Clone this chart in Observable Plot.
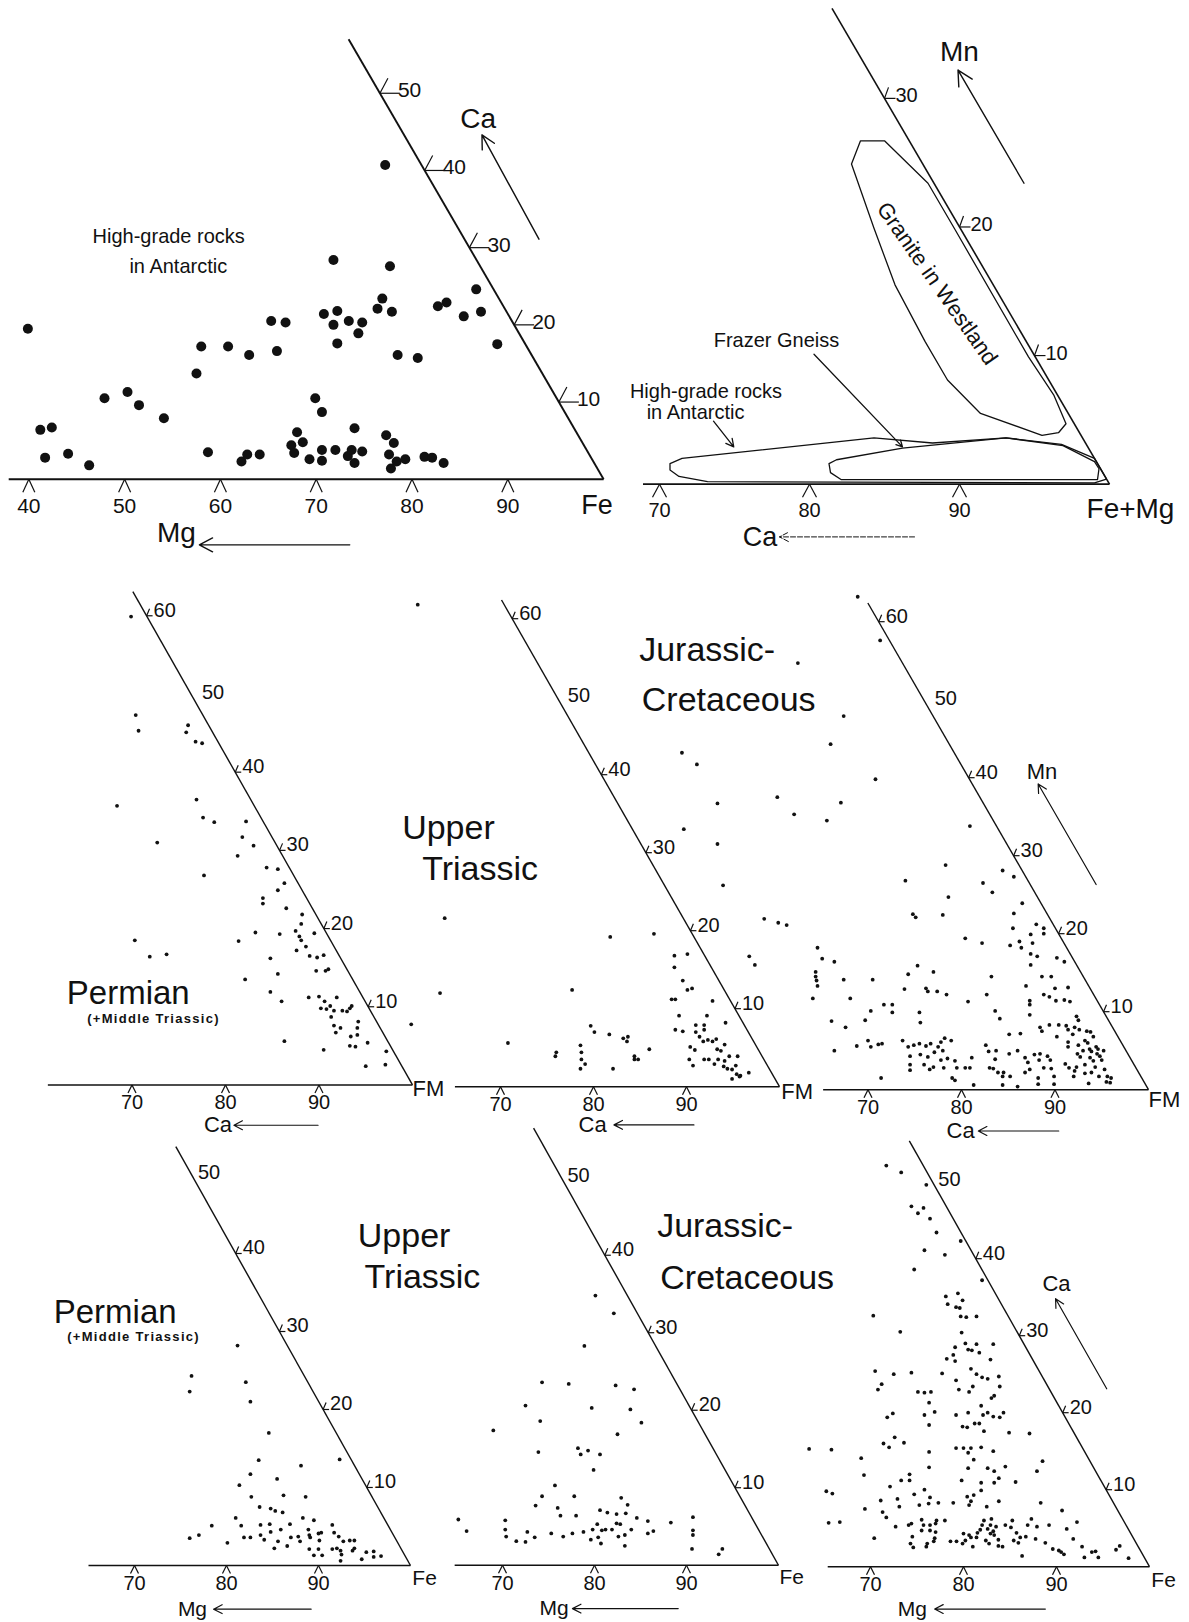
<!DOCTYPE html>
<html><head><meta charset="utf-8">
<script src="https://cdn.jsdelivr.net/npm/d3@7"></script>
<script src="https://cdn.jsdelivr.net/npm/@observablehq/plot@0.6"></script>
<style>
html,body{margin:0;padding:0;background:#fff;}
#page{position:relative;width:1189px;height:1622px;overflow:hidden;background:#fff;}
#page svg{position:absolute;overflow:visible;background:transparent;}
</style></head>
<body><div id="page"></div>
<script>
// ---------- DATA ----------
// Panel 1: Ca vs Mg–Fe (high-grade rocks in Antarctic): [Fe axis reading, Ca]
const antarcticPoints = [
 [77.2,40.7],[71.8,28.4],[77.7,27.6],[86.7,24.6],[76.9,23.4],[82.7,22.4],[83.6,22.9],[76.4,22.1],[77.9,21.7],[87.2,21.7],
 [70.8,21.4],[72.2,21.8],[73.4,20.5],[74.8,20.3],[71.8,20.0],[74.4,18.9],[72.2,17.6],[85.4,21.1],[88.9,17.5],[78.5,16.1],
 [80.6,15.7],[65.3,20.5],[66.8,20.3],[65.9,16.6],[58.0,17.2],[60.8,17.2],[63.0,16.1],[57.5,13.7],[39.9,19.5],[47.9,10.5],
 [50.3,11.3],[51.5,9.6],[54.1,7.9],[41.2,6.4],[42.4,6.7],[41.7,2.8],[44.1,3.3],[46.3,1.8],[58.7,3.5],[62.2,2.3],
 [62.8,3.2],[64.1,3.2],[69.9,10.5],[70.6,8.7],[68.0,6.1],[67.4,4.4],[67.7,3.4],[68.6,4.8],[69.3,2.6],[70.6,3.8],
 [70.6,2.4],[72.0,3.8],[73.3,3.0],[73.7,3.8],[74.0,6.6],[74.0,2.1],[74.8,3.6],[77.3,5.7],[78.1,4.7],[77.6,3.2],
 [77.8,1.4],[78.4,2.3],[79.3,2.6],[81.3,2.9],[82.1,2.8],[83.3,2.1]
];
// Panel 2: fields in Mn vs (Fe+Mg)–Ca: [Fe+Mg axis reading, Mn]
const graniteWestland = [[83.4,26.7],[85.0,26.7],[87.9,23.4],[89.7,19.8],[94.6,9.9],[96.3,6.9],[97.1,4.7],[96.6,4.0],[95.5,3.8],[91.4,5.5],[89.2,8.1],[87.7,11.1],[85.7,15.5],[84.3,19.9],[82.8,24.9]];
const frazerGneiss = [[81.8,1.9],[86.2,2.8],[93.1,3.6],[96.9,3.0],[99.0,1.75],[99.3,1.2],[99.2,0.36],[82.1,0.36],[81.4,0.9],[81.3,1.6]];
const antarcticField = [[71.5,2.0],[84.3,3.6],[88.2,3.2],[93.1,3.6],[96.8,3.1],[99.0,2.0],[99.8,0.4],[99.0,0.1],[73.2,0.2],[71.3,0.6],[70.7,1.1],[70.7,1.6]];

// Middle row: Mn vs FM–Ca: [FM axis reading, Mn]
const permianMn = [
 [69.9,59.9],[70.4,47.3],[70.7,45.3],[76.0,46.0],[75.8,45.1],[76.8,43.9],[77.5,43.7],[68.4,35.7],[76.9,36.5],[77.6,34.2],
 [78.8,33.6],[82.2,33.7],[81.8,31.7],[83.0,30.6],[81.3,29.3],[72.7,31.0],[77.7,26.8],[84.4,27.8],[85.6,27.6],[86.3,25.8],
 [85.6,24.9],[84.0,23.9],[84.0,23.2],[86.5,22.6],[88.2,21.8],[88.1,20.6],[89.5,19.4],[87.5,19.7],[87.9,19.0],[88.1,18.5],
 [85.8,19.3],[83.2,19.5],[81.4,18.4],[88.6,17.7],[87.6,17.2],[89.0,16.5],[89.8,16.3],[90.5,16.6],[89.7,14.6],[90.7,14.6],
 [91.0,14.8],[84.8,16.2],[85.6,14.2],[82.1,13.5],[84.8,11.9],[86.0,10.7],[88.9,11.2],[90.0,11.3],[90.6,10.7],[91.9,11.2],
 [90.2,9.8],[90.8,9.7],[91.2,10.1],[91.6,9.5],[91.3,8.7],[92.5,9.5],[93.0,9.4],[93.3,9.8],[93.5,10.1],[94.2,8.1],
 [94.1,7.3],[91.6,7.6],[92.3,7.3],[91.8,6.7],[93.4,6.2],[94.1,6.4],[93.3,5.0],[93.9,4.9],[95.2,5.4],[86.3,5.6],
 [90.5,4.5],[95.0,2.4],[97.1,2.6],[97.2,4.3],[70.3,18.5],[71.9,16.4],[73.7,16.7]
];
const upperTriassicMn = [
 [61.1,61.8],[64.0,21.6],[63.5,12.0],[60.4,8.0],
 [86.5,19.6],[81.8,19.2],[77.7,12.4],[70.8,5.6],[76.0,4.4],[75.9,3.9],[78.6,5.3],[78.7,4.4],[78.7,3.5],[78.6,2.3],
 [79.1,2.9],[79.7,7.8],[80.1,7.0],[81.7,6.7],[82.1,2.3],[83.2,6.2],[83.7,6.4],[83.6,5.8],[84.4,3.9],[84.8,3.5],
 [84.4,3.5],[86.0,4.8],[88.7,16.8],[90.1,17.0],[88.7,15.3],[89.6,13.6],[90.1,12.4],[90.6,12.6],[88.4,11.2],[88.8,11.2],
 [92.8,11.0],[89.2,9.1],[92.2,9.1],[94.2,8.2],[88.8,7.3],[89.6,7.1],[91.0,7.9],[91.9,7.9],[91.0,7.0],[91.9,7.3],
 [91.4,6.4],[91.8,5.8],[92.3,6.0],[92.8,5.8],[93.2,6.1],[90.4,5.1],[90.9,4.7],[91.9,3.5],[92.4,3.5],[93.3,4.8],
 [93.7,4.6],[94.1,5.4],[90.3,3.5],[90.7,2.7],[93.0,2.9],[93.4,3.5],[94.1,3.3],[94.6,3.9],[95.5,3.9],[94.0,2.6],
 [94.4,2.3],[94.9,2.2],[95.3,2.7],[95.4,1.6],[95.8,1.4],[94.9,1.0],[96.7,1.8],[95.7,1.3]
];
const jurassicMn = [
 [50.1,43.2],[51.7,41.7],[53.9,36.7],[50.3,33.4],[53.9,31.5],[54.5,26.2],[57.3,17.1],[57.9,16.0],[58.9,21.9],[60.4,21.4],
 [61.3,21.1],[60.3,37.5],[68.9,63.2],[62.5,54.7],[67.4,47.9],[66.0,44.3],[70.8,39.8],[67.1,36.8],[62.1,35.3],[65.6,34.5],
 [71.3,57.6],[80.9,33.8],[78.3,28.8],[74.0,26.8],[84.4,28.1],[85.6,27.3],[82.3,26.5],[83.3,25.3],[78.6,24.7],[86.5,23.9],
 [74.8,22.5],[75.1,22.1],[78.0,22.4],[85.6,22.6],[80.4,19.4],[82.2,18.8],[85.5,20.7],[88.0,21.2],[88.8,20.7],[87.4,19.9],
 [88.8,20.0],[85.2,18.5],[86.2,19.0],[86.4,18.2],[87.6,18.8],[87.4,17.4],[88.1,17.1],[90.2,16.9],[91.0,16.4],[87.4,16.0],
 [75.3,15.9],[77.0,15.1],[74.3,14.8],[83.2,14.5],[88.6,14.5],[89.6,14.5],[86.9,13.3],[90.0,13.0],[91.4,13.1],[73.9,12.9],
 [76.2,13.0],[76.4,12.6],[77.4,12.6],[78.4,12.2],[82.7,12.2],[80.7,11.3],[88.8,12.2],[89.4,11.9],[87.3,11.4],[90.1,11.4],
 [91.0,11.5],[91.6,11.3],[83.6,10.1],[87.3,10.9],[87.3,9.6],[84.1,9.1],[75.5,9.9],[75.6,8.6],[72.6,10.9],[72.6,9.9],
 [71.7,10.9],[70.3,10.1],[69.7,8.9],[70.5,14.1],[68.1,11.7],[67.4,14.1],[66.4,16.4],[65.1,16.8],[64.6,18.2],[64.4,15.1],
 [64.4,14.5],[64.5,14.0],[64.6,13.3],[64.1,11.7],[66.1,8.8],[67.6,8.0],[66.4,5.0],[68.8,5.6],[70.0,6.3],[70.3,5.5],
 [71.1,5.8],[71.5,5.9],[71.4,1.5],[73.7,6.3],[74.3,5.5],[74.9,5.7],[75.5,5.9],[76.2,5.6],[76.7,5.9],[77.5,5.5],
 [77.8,6.1],[78.2,6.6],[78.9,6.3],[78.0,5.0],[75.6,4.5],[76.4,4.2],[76.0,3.2],[77.1,4.8],[74.5,4.3],[74.5,3.2],
 [74.5,2.5],[76.6,2.6],[77.0,2.9],[77.8,3.8],[78.1,2.8],[78.5,4.0],[79.3,3.7],[79.5,2.8],[79.0,1.5],[79.3,1.2],
 [80.4,2.8],[80.9,2.8],[81.1,4.1],[81.3,0.6],[82.6,5.7],[82.9,4.9],[83.6,3.9],[83.7,5.0],[83.0,2.8],[83.4,2.7],
 [83.9,2.2],[84.5,2.2],[84.4,0.6],[84.4,1.7],[85.2,1.7],[85.1,4.6],[86.0,5.0],[86.0,0.4],[86.8,4.1],[87.1,3.5],
 [87.8,4.5],[88.3,3.8],[88.4,4.6],[88.8,2.8],[89.2,4.3],[89.5,3.8],[88.2,1.5],[88.2,0.7],[89.9,1.7],[89.9,0.7],
 [89.6,2.7],[87.3,2.6],[86.8,2.2],[85.1,7.1],[86.3,7.2],[88.4,8.0],[88.6,7.5],[89.4,8.3],[90.4,8.3],[90.2,6.8],
 [91.2,8.2],[91.4,6.1],[91.4,5.5],[91.4,7.7],[92.1,8.0],[92.3,9.4],[92.6,7.7],[92.5,8.9],[93.2,6.3],[93.4,7.5],
 [93.8,7.4],[94.1,6.8],[94.4,5.5],[94.6,5.2],[94.8,4.3],[95.0,3.8],[95.3,2.6],[95.6,1.7],[95.9,0.9],[96.0,1.5],
 [95.5,1.0],[93.5,6.0],[93.7,5.2],[93.75,4.1],[94.1,3.7],[94.3,2.9],[93.9,2.2],[93.2,3.2],[92.7,4.2],[93.0,5.0],
 [92.4,4.6],[92.3,2.9],[92.0,1.7],[92.1,2.4],[93.2,2.1],[93.6,0.8],[94.7,1.7],[91.1,3.3],[91.5,2.8],[93.9,4.9],
 [94.5,4.6],[95.2,5.0],[91.9,7.1],[92.5,5.7]
];

// Bottom row: Ca vs Mg–Fe: [Fe axis reading, Ca]
const permianCa = [
 [81.2,28.2],[76.2,24.3],[76.0,22.3],[82.1,23.5],[82.6,21.0],[84.6,17.0],[92.3,13.6],[83.5,13.5],[88.1,12.8],[82.6,11.7],
 [85.5,11.1],[81.4,10.3],[86.2,9.0],[88.6,8.8],[82.7,8.8],[83.6,7.5],[84.8,7.3],[85.3,7.0],[86.1,6.8],[81.0,6.1],
 [78.4,5.1],[77.0,3.9],[76.0,3.5],[80.1,2.9],[81.6,5.1],[81.9,3.6],[82.6,3.6],[83.7,5.2],[83.7,3.9],[84.1,3.3],
 [84.7,5.3],[84.8,4.3],[85.2,2.2],[85.9,4.6],[85.6,3.1],[86.6,2.5],[86.9,5.3],[87.0,3.6],[87.8,3.7],[88.0,3.1],
 [88.3,6.1],[88.9,4.6],[89.5,5.8],[89.0,3.9],[89.1,3.6],[90.0,4.1],[90.3,4.2],[90.1,3.2],[89.0,2.1],[89.5,1.3],
 [90.0,2.1],[90.4,1.3],[91.5,5.2],[91.7,4.2],[92.2,3.7],[92.7,3.1],[93.4,3.2],[93.9,3.2],[91.5,2.1],[92.0,2.2],
 [92.4,1.9],[92.5,1.4],[92.4,0.6],[93.9,2.2],[93.7,1.9],[94.7,0.8],[95.2,1.7],[96.0,1.8],[96.0,1.1],[96.8,1.2]
];
const upperTriassicCa = [
 [80.1,34.8],[82.1,32.5],[78.9,28.3],[74.3,23.6],[77.2,23.4],[82.3,23.2],[84.3,22.7],[72.5,20.6],[79.7,20.3],[83.9,20.1],
 [85.1,18.4],[74.1,18.6],[82.5,16.9],[69.0,17.4],[73.9,14.6],[78.2,15.1],[79.3,14.8],[78.5,14.3],[80.6,14.3],[79.9,12.3],
 [75.7,10.3],[74.3,8.9],[73.6,7.7],[77.8,8.9],[82.9,8.7],[83.6,7.8],[76.0,7.4],[76.3,6.4],[78.0,6.4],[80.6,7.1],
 [81.4,6.8],[82.4,6.6],[83.4,6.7],[84.6,6.1],[85.8,5.7],[88.3,5.5],[90.7,6.2],[90.7,4.5],[90.7,3.9],[90.6,2.1],
 [93.9,2.1],[93.5,1.4],[70.3,5.8],[70.3,4.6],[70.4,3.7],[65.2,5.9],[66.1,4.4],[71.5,3.1],[72.5,3.0],[72.7,4.3],
 [73.5,3.6],[75.3,4.1],[76.6,3.7],[77.6,4.1],[78.8,4.3],[79.6,3.3],[79.8,4.6],[80.3,5.3],[80.4,3.6],[80.7,2.8],
 [80.8,4.5],[81.2,4.6],[81.9,4.6],[82.4,5.4],[82.6,3.7],[82.8,5.3],[83.3,3.9],[83.3,2.5],[84.0,4.6],[85.8,4.1],[86.4,4.4]
];
const jurassicCa = [
 [71.7,52.1],[73.3,51.2],[76.0,49.6],[74.4,46.8],[75.7,46.6],[75.1,45.9],[76.4,45.2],[77.1,43.4],[79.7,42.3],[75.8,41.1],
 [78.0,40.5],[82.0,37.2],[74.7,38.6],[78.1,35.1],[79.4,35.5],[79.9,34.6],[78.3,34.1],[79.2,33.7],[79.6,33.6],[79.7,32.5],
 [80.3,32.4],[81.4,32.5],[70.3,32.6],[73.2,30.5],[79.8,30.4],[80.2,29.0],[81.4,28.9],[83.2,28.9],[79.1,28.5],[80.5,28.2],
 [80.9,28.1],[81.7,27.8],[78.2,27.0],[78.9,27.5],[79.1,26.7],[82.9,26.9],[80.8,25.7],[81.4,25.0],[82.0,24.6],[82.6,24.4],
 [83.8,24.7],[77.7,25.1],[79.2,24.2],[81.0,23.4],[79.5,23.0],[80.6,22.7],[83.9,23.4],[83.3,22.2],[83.0,21.9],[70.5,25.4],
 [72.5,25.0],[74.4,25.2],[71.2,23.7],[70.8,23.0],[75.1,22.7],[75.8,22.6],[76.5,22.7],[76.3,21.3],[75.8,19.7],[76.9,20.1],
 [76.3,18.4],[72.4,19.9],[71.8,19.4],[81.9,20.9],[82.1,19.7],[82.6,20.0],[83.2,19.5],[84.3,20.0],[83.9,19.4],[79.2,19.7],
 [80.5,20.0],[79.9,18.2],[80.4,18.1],[81.2,18.6],[81.7,18.6],[82.2,17.6],[84.9,17.4],[87.1,17.3],[72.6,16.8],[73.6,16.1],
 [71.4,16.0],[72.0,15.5],[63.4,15.3],[65.8,15.2],[76.3,14.9],[79.2,15.4],[80.0,15.4],[80.8,15.4],[80.5,14.8],[81.1,13.9],
 [81.9,15.5],[83.2,15.0],[69.0,14.1],[69.3,11.9],[76.3,12.9],[80.5,12.8],[82.6,12.8],[83.3,12.4],[84.5,13.0],[88.5,13.7],
 [87.9,12.4],[74.2,12.0],[73.3,11.2],[74.2,11.2],[72.1,10.4],[79.8,11.2],[81.9,10.9],[83.8,11.5],[83.3,10.9],[85.6,11.0],
 [81.9,9.9],[81.1,9.3],[65.25,9.8],[65.9,9.5],[71.1,8.6],[71.3,7.1],[71.7,6.4],[72.9,8.8],[73.1,7.8],[74.7,9.4],
 [75.8,10.0],[75.25,8.0],[76.25,8.2],[76.4,9.0],[77.3,8.3],[78.9,8.3],[80.4,9.1],[80.8,8.5],[80.6,8.0],[82.5,7.8],
 [83.8,8.5],[69.4,7.5],[88.3,8.3],[90.6,7.3],[65.5,5.7],[66.7,5.8],[70.4,3.7],[72.7,5.2],[74.1,5.4],[74.4,5.6],
 [74.5,3.9],[74.3,3.0],[74.6,2.5],[75.5,6.1],[75.7,5.4],[76.4,5.4],[77.0,5.6],[75.5,4.7],[76.4,4.7],[77.0,4.5],
 [76.1,3.0],[76.0,2.6],[76.8,3.3],[76.9,3.7],[78.0,6.0],[77.1,6.0],[78.6,3.3],[79.25,3.3],[80.0,4.3],[80.2,3.4],
 [79.9,3.0],[80.8,3.8],[81.0,2.6],[80.6,4.1],[81.5,4.4],[81.4,3.8],[81.8,4.8],[82.0,5.4],[82.2,6.0],[82.6,4.9],
 [82.9,4.3],[82.9,5.4],[83.0,6.2],[82.4,3.4],[82.75,3.0],[83.3,4.1],[83.2,4.6],[83.5,5.2],[83.75,3.5],[84.2,2.6],
 [83.75,2.7],[84.5,5.4],[85.1,5.1],[85.25,6.0],[85.7,4.4],[85.4,3.4],[85.9,3.1],[86.1,3.8],[86.7,3.9],[86.9,5.4],
 [87.3,6.2],[86.3,1.4],[87.9,5.2],[87.75,3.6],[89.2,5.4],[88.8,3.1],[90.25,2.1],[90.5,1.9],[90.8,1.6],[89.6,2.3],
 [91.1,4.9],[91.8,3.6],[92.2,5.8],[92.75,2.6],[93.0,1.2],[93.8,1.9],[94.2,2.0],[94.5,1.2],[96.4,2.2],[96.8,2.7],[97.75,1.1]
];

// Tick labels
const baseTicksTopLeft = [40, 50, 60, 70, 80, 90];
const baseTicks = [70, 80, 90];
const sideTicksTopLeft = [10, 20, 30, 40, 50];
const sideTicksTopRight = [10, 20, 30];
const sideTicksMn = [10, 20, 30, 40, 50, 60];
const sideTicksCa = [10, 20, 30, 40, 50];
const bareTicks = [50];

// ---------- DRAWING ----------
const page = document.getElementById("page");
const FONT = "'Liberation Sans', Arial, Helvetica, sans-serif";
const INK = "#111";

function txt(s, x, y, size, o = {}) {
  return Plot.text([s], {x: () => x, y: () => y, text: d => d, fontSize: size, fontFamily: FONT, fill: INK, ...o});
}
function arr(x1, y1, x2, y2, o = {}) {
  return Plot.arrow([0], {x1: () => x1, y1: () => y1, x2: () => x2, y2: () => y2, stroke: INK, strokeWidth: 1.3, headLength: 12, headAngle: 55, ...o});
}

function frameMarks(c) {
  const diag = v => 100 - c.slope * v;
  const marked = c.side.filter(v => !c.bare.includes(v));
  const bare = c.side.filter(v => c.bare.includes(v));
  return [
    Plot.link([c.baseStart], {x1: d => d, y1: () => 0, x2: () => 100, y2: () => 0, stroke: INK, strokeWidth: c.sw}),
    Plot.link([c.top], {x1: () => 100, y1: () => 0, x2: d => diag(d), y2: d => d, stroke: INK, strokeWidth: c.sw}),
    Plot.link(c.base, {x1: d => d - c.caretW / c.kx, y1: () => -c.caretH / c.ky, x2: d => d, y2: () => 0, stroke: INK, strokeWidth: 1.2}),
    Plot.link(c.base, {x1: d => d + c.caretW / c.kx, y1: () => -c.caretH / c.ky, x2: d => d, y2: () => 0, stroke: INK, strokeWidth: 1.2}),
    Plot.text(c.base, {x: d => d, y: () => 0, text: d => String(d), dy: c.labDy, fontSize: c.fs, fontFamily: FONT, fill: INK, lineAnchor: "middle"}),
    Plot.link(marked, {x1: d => diag(d), y1: d => d, x2: d => diag(d) + c.tickH / c.kx, y2: d => d, stroke: INK, strokeWidth: 1.2}),
    Plot.link(marked, {x1: d => diag(d), y1: d => d, x2: d => diag(d) + c.tickSX / c.kx, y2: d => d + c.tickSY / c.ky, stroke: INK, strokeWidth: 1.2}),
    Plot.text(marked, {x: d => diag(d), y: d => d, text: d => String(d), dx: c.sideDx, dy: c.sideDy ?? 1, textAnchor: "start", lineAnchor: "bottom", fontSize: c.fs, fontFamily: FONT, fill: INK}),
    Plot.text(bare, {x: d => diag(d), y: d => d, text: d => String(d), dx: c.bareDx, dy: c.bareDy, textAnchor: "start", lineAnchor: "bottom", fontSize: c.fs, fontFamily: FONT, fill: INK})
  ];
}

function panel(c, marks) {
  const W = (c.xDom[1] - c.xDom[0]) * c.kx;
  const H = (c.yDom[1] - c.yDom[0]) * c.ky;
  const left = c.px + (c.xDom[0] - c.ref) * c.kx;
  const top = c.basePx - c.yDom[1] * c.ky;
  const svg = Plot.plot({
    width: W, height: H, margin: 0,
    x: {domain: c.xDom, range: [0, W], axis: null},
    y: {domain: c.yDom, range: [H, 0], axis: null},
    marks: [...frameMarks(c), ...marks]
  });
  svg.style.position = "absolute";
  svg.style.left = left + "px";
  svg.style.top = top + "px";
  svg.style.maxWidth = "none";
  svg.style.overflow = "visible";
  svg.style.background = "transparent";
  svg.style.fontFamily = FONT;
  svg.querySelectorAll("text").forEach(t => {
    if (t.textContent === "(+Middle Triassic)") t.style.letterSpacing = "1.3px";
  });
  page.appendChild(svg);
}

const dots = (data, r) => Plot.dot(data, {x: d => d[0], y: d => d[1], r, fill: INK, stroke: "none"});
const poly = data => Plot.line(data, {x: d => d[0], y: d => d[1], curve: "linear-closed", stroke: INK, strokeWidth: 1.3});

const smallFrame = {caretW: 4, caretH: 8, fs: 20, labDy: 18, tickH: 6, tickSX: 3, tickSY: 7, sideDx: 7, bare: bareTicks, sw: 1.4, xDom: [60, 101], ref: 70};
const R = 1.9;

// Panel 1
panel({ref: 40, px: 28, kx: 9.58, basePx: 479, ky: 7.72, xDom: [36, 104], yDom: [-10, 58], slope: 0.467, top: 57, baseStart: 37.9,
  base: baseTicksTopLeft, side: sideTicksTopLeft, bare: [], caretW: 6, caretH: 13, fs: 21, labDy: 27, tickH: 20, tickSX: 8, tickSY: 15, sideDx: 18, sideDy: 4, sw: 1.9},
 [dots(antarcticPoints, 5),
  txt("High-grade rocks", 54.6, 31.4, 20, {lineAnchor: "middle"}),
  txt("in Antarctic", 55.6, 27.6, 20, {lineAnchor: "middle"}),
  txt("Ca", 86.9, 46.7, 28, {lineAnchor: "middle"}),
  arr(93.25, 31.1, 87.3, 44.6, {headLength: 16, strokeWidth: 1.4}),
  txt("Fe", 99.3, -3.4, 27, {lineAnchor: "middle"}),
  txt("Mg", 55.4, -7.0, 28, {lineAnchor: "middle"}),
  arr(73.5, -8.5, 57.8, -8.5, {headLength: 16, strokeWidth: 1.4})]);

// Panel 2
panel({ref: 70, px: 659, kx: 15.0, basePx: 484, ky: 12.86, xDom: [66, 104], yDom: [-6, 38], slope: 0.5, top: 37, baseStart: 68.9,
  base: baseTicks, side: sideTicksTopRight, bare: [], caretW: 7, caretH: 13, fs: 20, labDy: 26, tickH: 11, tickSX: 4, tickSY: 11, sideDx: 11, sideDy: 4, sw: 1.6},
 [poly(graniteWestland), poly(frazerGneiss), poly(antarcticField),
  txt("Mn", 90.0, 33.6, 28, {lineAnchor: "middle"}),
  arr(94.3, 23.4, 89.9, 32.2, {headLength: 18, strokeWidth: 1.4}),
  txt("Granite in Westland", 88.5, 15.6, 22, {lineAnchor: "middle", rotate: 55}),
  txt("Frazer Gneiss", 77.8, 11.2, 20, {lineAnchor: "middle"}),
  arr(80.3, 10.1, 86.2, 2.9, {headLength: 8}),
  txt("High-grade rocks", 73.1, 7.2, 20, {lineAnchor: "middle"}),
  txt("in Antarctic", 72.4, 5.6, 20, {lineAnchor: "middle"}),
  arr(73.6, 4.9, 74.95, 2.9, {headLength: 10}),
  txt("Fe+Mg", 101.4, -1.9, 28, {lineAnchor: "middle"}),
  txt("Ca", 76.7, -4.1, 27, {lineAnchor: "middle"}),
  arr(87.0, -4.1, 78.0, -4.1, {headLength: 15, strokeWidth: 1, strokeDasharray: "5,2"})]);

// Panel 3: Permian, Mn
panel({...smallFrame, px: 131.4, kx: 9.35, basePx: 1084.5, ky: 7.82, yDom: [-7, 64], slope: 0.474, top: 63.1, baseStart: 61.0,
  base: baseTicks, side: sideTicksMn, bareDx: 11, bareDy: 5},
 [dots(permianMn, R),
  txt("Permian", 69.6, 11.7, 33, {lineAnchor: "middle"}),
  txt("(+Middle Triassic)", 72.3, 8.4, 13, {lineAnchor: "middle", fontWeight: "bold"}),
  txt("FM", 100.0, -0.5, 22, {lineAnchor: "middle", textAnchor: "start"}),
  txt("Ca", 79.2, -5.15, 22, {lineAnchor: "middle"}),
  arr(89.9, -5.15, 80.9, -5.15, {headLength: 12, strokeWidth: 1.2})]);

// Panel 4: Upper Triassic, Mn
panel({...smallFrame, px: 500, kx: 9.3, basePx: 1086.5, ky: 7.8, yDom: [-7, 64], slope: 0.479, top: 62.4, baseStart: 65.1,
  base: baseTicks, side: sideTicksMn, bareDx: 11, bareDy: 5},
 [dots(upperTriassicMn, R),
  txt("Upper", 64.4, 33.1, 34, {lineAnchor: "middle"}),
  txt("Triassic", 67.8, 27.9, 34, {lineAnchor: "middle"}),
  txt("FM", 100.2, -0.7, 22, {lineAnchor: "middle", textAnchor: "start"}),
  txt("Ca", 79.9, -4.9, 22, {lineAnchor: "middle"}),
  arr(90.8, -4.9, 82.2, -4.9, {headLength: 12, strokeWidth: 1.2})]);

// Panel 5: Jurassic–Cretaceous, Mn
panel({...smallFrame, px: 867.5, kx: 9.35, basePx: 1089.5, ky: 7.8, yDom: [-7, 64], slope: 0.481, top: 62.4, baseStart: 65.2,
  base: baseTicks, side: sideTicksMn, bareDx: 11, bareDy: 5},
 [dots(jurassicMn, R),
  txt("Jurassic-", 52.8, 56.3, 34, {lineAnchor: "middle"}),
  txt("Cretaceous", 55.1, 49.9, 34, {lineAnchor: "middle"}),
  txt("Mn", 88.6, 40.7, 22, {lineAnchor: "middle"}),
  arr(94.4, 26.3, 88.2, 39.2, {headLength: 12, strokeWidth: 1.2}),
  txt("FM", 100.0, -1.35, 22, {lineAnchor: "middle", textAnchor: "start"}),
  txt("Ca", 79.9, -5.3, 22, {lineAnchor: "middle"}),
  arr(90.4, -5.3, 81.8, -5.3, {headLength: 12, strokeWidth: 1.2})]);

// Panel 6: Permian, Ca
panel({...smallFrame, px: 133.5, kx: 9.2, basePx: 1564.5, ky: 7.8, yDom: [-7, 55], slope: 0.475, top: 53.7, baseStart: 65.0,
  base: baseTicks, side: sideTicksCa, bareDx: 6, bareDy: 4},
 [dots(permianCa, R),
  txt("Permian", 67.9, 32.4, 33, {lineAnchor: "middle"}),
  txt("(+Middle Triassic)", 69.9, 29.3, 13, {lineAnchor: "middle", fontWeight: "bold"}),
  txt("Fe", 100.2, -1.6, 21, {lineAnchor: "middle", textAnchor: "start"}),
  txt("Mg", 76.3, -5.6, 21, {lineAnchor: "middle"}),
  arr(89.2, -5.6, 78.6, -5.6, {headLength: 12, strokeWidth: 1.2})]);

// Panel 7: Upper Triassic, Ca
panel({...smallFrame, px: 502, kx: 9.2, basePx: 1564.5, ky: 7.75, yDom: [-7, 57], slope: 0.472, top: 56.4, baseStart: 64.8,
  base: baseTicks, side: sideTicksCa, bareDx: 6, bareDy: 4},
 [dots(upperTriassicCa, R),
  txt("Upper", 59.3, 42.5, 34, {lineAnchor: "middle"}),
  txt("Triassic", 61.3, 37.2, 34, {lineAnchor: "middle"}),
  txt("Jurassic-", 94.2, 43.8, 34, {lineAnchor: "middle"}),
  txt("Cretaceous", 96.6, 37.1, 34, {lineAnchor: "middle"}),
  txt("Fe", 100.1, -1.6, 21, {lineAnchor: "middle", textAnchor: "start"}),
  txt("Mg", 75.6, -5.6, 21, {lineAnchor: "middle"}),
  arr(89.1, -5.6, 77.6, -5.6, {headLength: 12, strokeWidth: 1.2})]);

// Panel 8: Jurassic–Cretaceous, Ca
panel({...smallFrame, px: 870, kx: 9.3, basePx: 1566, ky: 7.7, yDom: [-7, 56], slope: 0.467, top: 55.3, baseStart: 65.4,
  base: baseTicks, side: sideTicksCa, bareDx: 6, bareDy: 4},
 [dots(jurassicCa, R),
  txt("Ca", 90.0, 36.7, 22, {lineAnchor: "middle"}),
  arr(95.4, 23.1, 89.9, 34.8, {headLength: 12, strokeWidth: 1.2}),
  txt("Fe", 100.2, -1.8, 21, {lineAnchor: "middle", textAnchor: "start"}),
  txt("Mg", 74.5, -5.5, 21, {lineAnchor: "middle"}),
  arr(88.8, -5.5, 76.9, -5.5, {headLength: 12, strokeWidth: 1.2})]);
</script>
</body></html>
